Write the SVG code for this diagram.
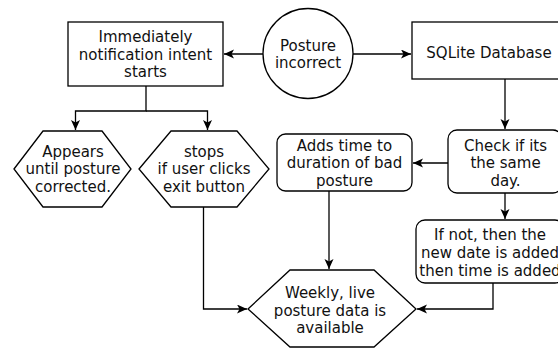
<svg xmlns="http://www.w3.org/2000/svg" width="558" height="351" viewBox="0 0 558 351">
<style>
.s{fill:#fff;stroke:#000;stroke-width:1.3}
.c{fill:none;stroke:#000;stroke-width:1.3}
text{font-family:"DejaVu Sans","Verdana",sans-serif;font-size:15px;fill:#111;text-anchor:middle}
</style>
<defs>
<marker id="a" markerUnits="userSpaceOnUse" markerWidth="11" markerHeight="10" refX="10" refY="4.5" orient="auto" viewBox="0 0 11 10">
<path d="M0,0 L10,4.5 L0,9 L2.5,4.5 z" fill="#000"/>
</marker>
</defs>
<rect width="558" height="351" fill="#fff"/>
<g id="connectors">
<path class="c" d="M263,54 L224,54" marker-end="url(#a)"/>
<path class="c" d="M353,54 L411,54" marker-end="url(#a)"/>
<path class="c" d="M146,86 L146,111 L75.5,111 L75.5,130" marker-end="url(#a)"/>
<path class="c" d="M146,111 L207.5,111 L207.5,130" marker-end="url(#a)"/>
<path class="c" d="M505,79 L505,129" marker-end="url(#a)"/>
<path class="c" d="M448,163 L413,163" marker-end="url(#a)"/>
<path class="c" d="M505,193 L505,219" marker-end="url(#a)"/>
<path class="c" d="M329,191 L329,269" marker-end="url(#a)"/>
<path class="c" d="M203.5,207 L203.5,309 L247,309" marker-end="url(#a)"/>
<path class="c" d="M493,283 L493,309 L417,309" marker-end="url(#a)"/>
</g>
<g id="posture">
<circle class="s" cx="308" cy="53.5" r="45"/>
<text x="308" y="50.7">Posture</text>
<text x="308" y="68.3">incorrect</text>
</g>
<g id="notification">
<rect class="s" x="68" y="22" width="155" height="64"/>
<text x="145.5" y="42.3">Immediately</text>
<text x="145.5" y="59.5">notification intent</text>
<text x="145.5" y="76.8">starts</text>
</g>
<g id="sqlite">
<rect class="s" x="412" y="22" width="154" height="57"/>
<text x="489" y="57.5">SQLite Database</text>
</g>
<g id="appears">
<polygon class="s" points="14,169 43,131 102,131 131,169 102,207 43,207"/>
<text x="73" y="156.7">Appears</text>
<text x="73" y="174.3">until posture</text>
<text x="73" y="192.3">corrected.</text>
</g>
<g id="stops">
<polygon class="s" points="139,169 171,131 237,131 269,169 237,207 171,207"/>
<text x="204" y="156.7">stops</text>
<text x="204" y="174.3">if user clicks</text>
<text x="204" y="192.3">exit button</text>
</g>
<g id="adds">
<rect class="s" x="277" y="134" width="135" height="57" rx="8.5"/>
<text x="344.5" y="150.7">Adds time to</text>
<text x="344.5" y="168.3">duration of bad</text>
<text x="344.5" y="186">posture</text>
</g>
<g id="check">
<rect class="s" x="448" y="130" width="114" height="63" rx="9"/>
<text x="505.5" y="150.7">Check if its</text>
<text x="505.5" y="168.3">the same</text>
<text x="505.5" y="186">day.</text>
</g>
<g id="ifnot">
<rect class="s" x="416" y="220" width="148" height="63" rx="9"/>
<text x="490" y="240">If not, then the</text>
<text x="490" y="258.3">new date is added</text>
<text x="490" y="276">then time is added</text>
</g>
<g id="weekly">
<polygon class="s" points="248,309 290,270 374,270 416,309 374,347 290,347"/>
<text x="330" y="298.3">Weekly, live</text>
<text x="330" y="316">posture data is</text>
<text x="330" y="333.3">available</text>
</g>
</svg>
